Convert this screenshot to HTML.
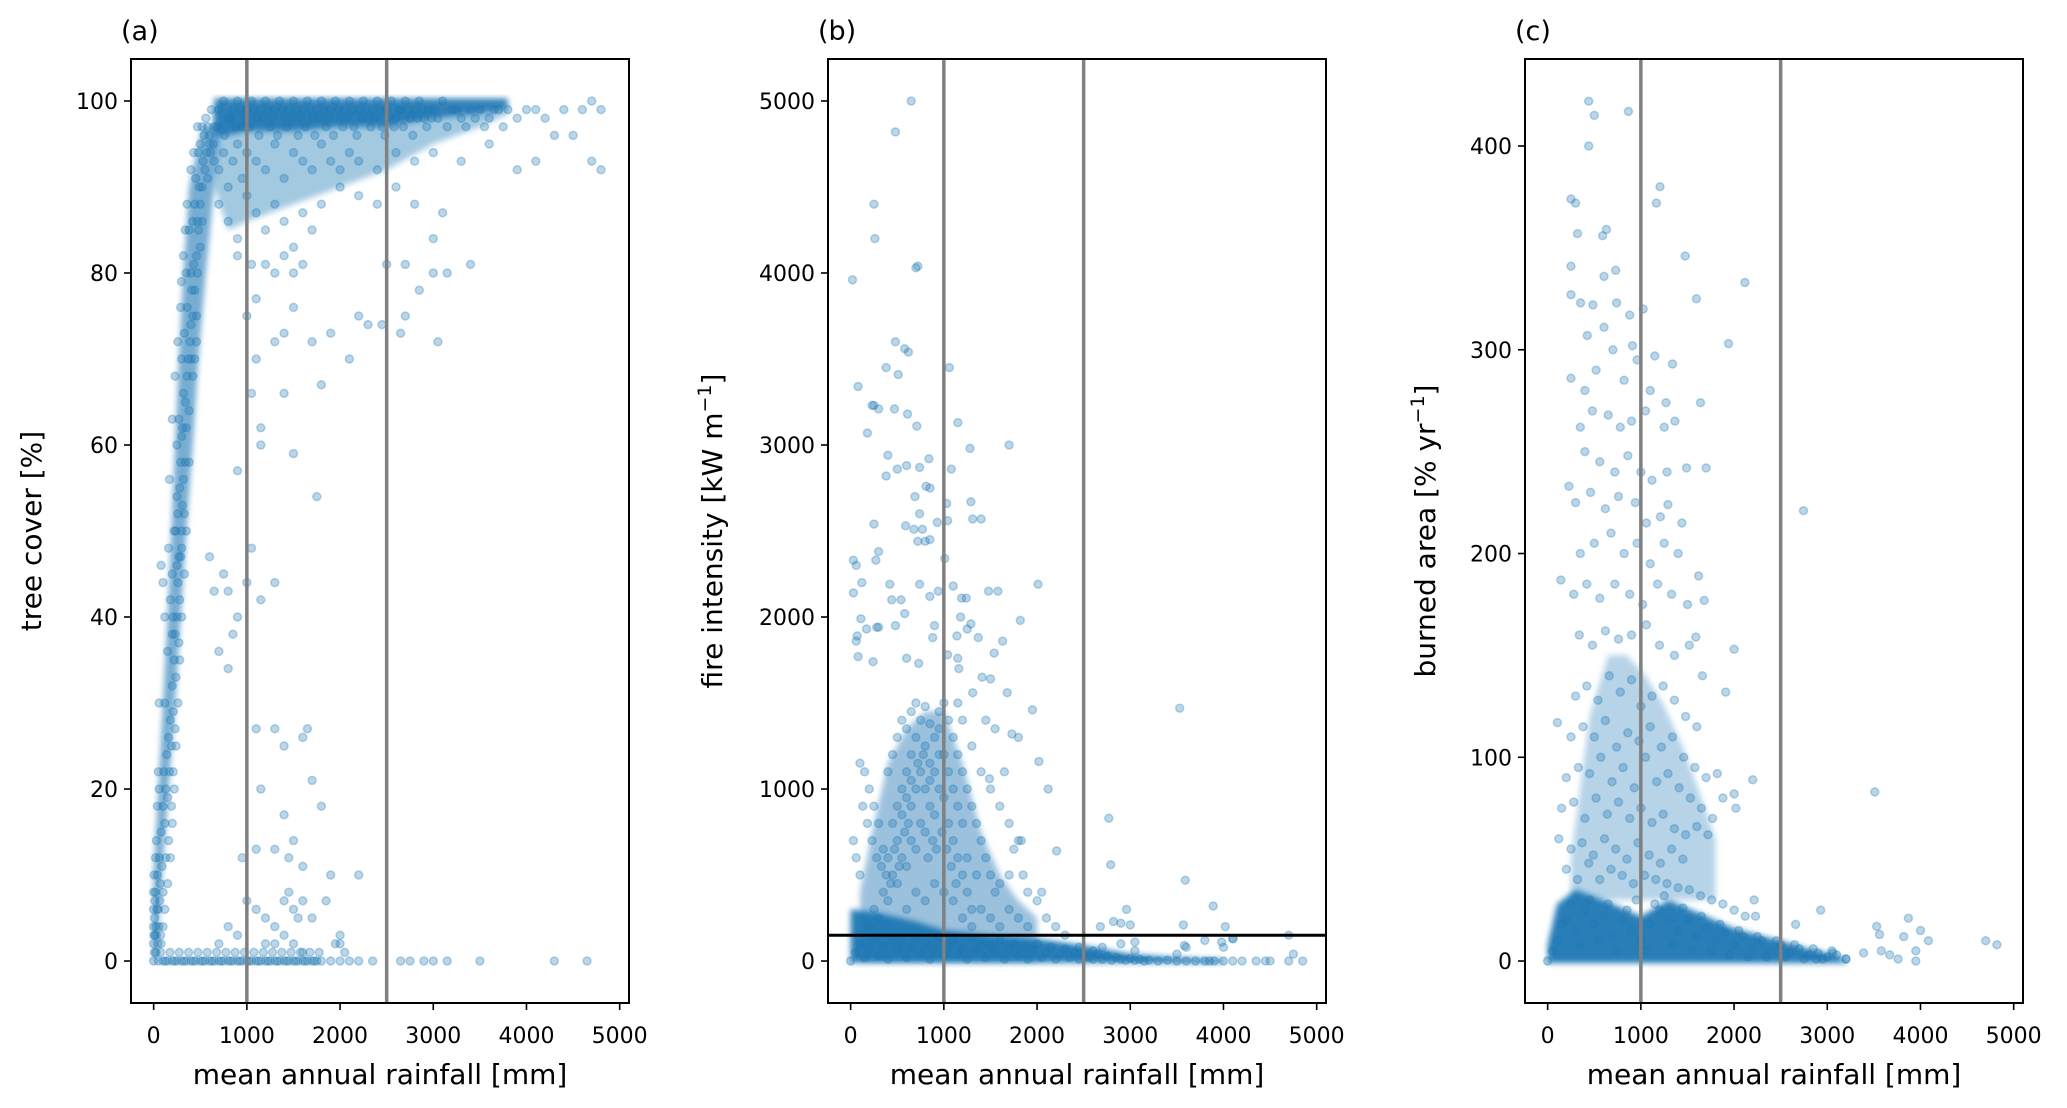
<!DOCTYPE html>
<html><head><meta charset="utf-8">
<style>
html,body{margin:0;padding:0;background:#fff;}
svg{display:block;font-family:"DejaVu Sans","Liberation Sans",sans-serif;}
</style></head>
<body>
<svg id="fig" width="2067" height="1108" viewBox="0 0 2067 1108" xmlns="http://www.w3.org/2000/svg">
<defs><filter id="soft" x="-10%" y="-10%" width="120%" height="120%"><feGaussianBlur stdDeviation="3"/></filter></defs>
</svg>
<script>
// ---------- data ----------
const xTicks = [0,1000,2000,3000,4000,5000];
const xTickLabels = ["0","1000","2000","3000","4000","5000"];
const yTicksA = [0,20,40,60,80,100];
const yTicksB = [0,1000,2000,3000,4000,5000];
const yTicksC = [0,100,200,300,400];
const refRainfall = [1000,2500];
const fireThreshold = 150;

// dense cores (envelopes)
const coreTopRainA = [650,800,1000,1500,2000,2500,3000,3500,3800];
const coreTopLowA  = [96,96,96.5,96.5,97,97,98,98.5,99];
const coreTopHaloLowA = [90,85,86,88,90,92,95,97,98.5];
const coreCurveCoverA = [0,10,20,30,40,50,60,70,80,90,97];
const coreCurveLeftA  = [0,0,50,100,150,190,230,270,320,380,520];
const coreCurveRightA = [30,90,160,230,290,350,420,480,560,650,720];

const coreBandRainB = [0,300,700,1000,1500,2000,2500,3000,3500,4000];
const coreBandHighB = [300,280,230,180,150,130,90,40,20,10];
const coreClusterRainB = [100,250,400,600,800,1000,1200,1400,1600,1800,2000];
const coreClusterHighB = [400,800,1150,1350,1450,1450,1150,750,500,350,250];

const coreBandRainC = [0,100,300,600,1000,1300,1600,2000,2500,2800,3100,3200];
const coreBandHighC = [8,28,35,30,22,30,24,16,10,6,3,0];
const coreClusterRainC = [250,450,650,850,1050,1250,1450,1650,1800];
const coreClusterHighC = [50,120,150,150,140,125,105,80,60];

const treeCoverPoints = [
[700,99],[750,100],[800,98],[850,99],[900,100],[950,97],[1000,99],[1050,100],[1100,98],[1150,99],[1200,100],[1250,97],[1300,99],[1350,100],[1400,98],[1450,99],[1500,100],[1550,96],[1600,99],[1650,100],[1700,98],[1750,99],[1800,100],[1850,97],[1900,99],[1950,100],[2000,98],[2050,99],[2100,100],[2150,97],[2200,99],[2250,100],[2300,98],[2350,99],[2400,100],[2450,97],[2500,99],[2550,100],[2600,98],[2650,99],[2700,100],[2750,98],[2800,99],[2850,100],[2900,98],[2950,99],[3000,99],[3100,100],[3200,99],[3300,98],[3400,99],[3500,99],[3600,98],[3700,99],[3800,99],[3900,98],[4000,99],[4100,99],[4200,98],[4400,99],[4600,99],[4700,100],[4800,99],
[680,97],[760,96],[830,98],[880,97],[930,99],[980,98],[1030,97],[1080,99],[1130,96],[1180,98],[1230,99],[1280,98],[1330,96],[1380,99],[1430,97],[1480,98],[1530,99],[1580,98],[1630,97],[1680,99],[1730,96],[1780,98],[1830,99],[1880,98],[1930,96],[1980,99],[2030,97],[2080,98],[2130,99],[2180,96],[2230,98],[2280,99],[2330,97],[2380,98],[2430,99],[2480,96],[2530,98],[2580,97],[2630,99],[2680,97],[2730,99],[2780,96],[2830,98],[2880,99],[2930,97],[2980,98],[3050,98],[3150,97],[3250,99],[3350,97],[3450,98],[3550,97],[3650,99],[3750,97],
[600,95],[650,93],[700,92],[750,94],[800,90],[850,93],[900,95],[950,91],[1000,94],[1100,93],[1200,92],[1300,95],[1400,91],[1500,94],[1600,93],[1700,92],[1800,95],[1900,93],[2000,92],[2100,94],[2200,93],[2400,92],[2600,94],[2800,93],[3000,94],[3300,93],[3600,95],[3900,92],[4100,93],[4300,96],[4800,92],[4700,93],[4500,96],
[700,88],[800,86],[900,84],[1000,89],[1100,87],[1200,85],[1300,88],[1400,86],[1500,83],[1600,87],[1700,85],[1800,88],[2000,90],[2200,89],[2400,88],[2600,90],[2800,88],[3000,84],[3100,87],[1200,81],[1300,80],[1400,82],[1500,80],[1600,81],[900,82],[1050,81],[2500,81],[2700,81],[3000,80],[3150,80],[3400,81],[2850,78],[2700,75],[2200,75],[2300,74],[2100,70],[1900,73],[1700,72],[1800,67],[1500,76],[1400,73],[1300,72],[1100,77],[1000,75],[1100,70],[1400,66],[3050,72],[2650,73],[2450,74],[1150,62],[1150,60],[1050,66],[1500,59],[1750,54],[900,57],[1050,48],[1000,44],[1150,42],[1300,44],[1100,27],[1300,27],[1400,25],[1600,26],[1650,27],[1700,21],[1800,18],[1150,20],[1400,17],[1900,10],[2200,10],[1100,13],[1500,14],[1300,13],[1450,12],[1600,11],[950,12],[1850,7],[1000,7],[1100,6],[1200,5],[1300,4],[1400,7],[1450,8],[1500,6],[1550,5],[1600,7],[1700,5],[1200,2],[1300,2],[1400,3],[1500,2],[2000,3],[2000,2],[1950,2],[2050,1],[1600,1],[800,4],[900,3],[700,2],[800,43],[850,38],[900,40],[700,36],[750,45],[650,43],[800,34],[600,47],
[0,2],[10,5],[20,8],[30,3],[40,10],[50,6],[60,12],[70,9],[30,14],[80,15],[90,11],[100,18],[60,20],[110,22],[120,16],[130,20],[140,24],[150,19],[160,26],[170,22],[180,28],[190,25],[120,30],[200,32],[210,29],[220,35],[230,38],[240,33],[250,40],[260,44],[270,37],[280,42],[290,47],[300,50],[200,45],[220,50],[250,54],[280,55],[300,48],[310,53],[320,56],[330,52],[340,58],[250,60],[270,63],[300,61],[320,66],[350,62],[360,68],[380,64],[400,70],[300,70],[330,73],[360,76],[390,72],[420,75],[440,78],[400,80],[460,82],[350,80],[300,79],[480,85],[420,86],[500,88],[380,85],[520,90],[450,91],[550,92],[480,94],[600,96],[520,97],[560,98],[620,99],[650,97],[570,94],[500,95],[440,88],[460,75],[420,68],[380,58],[350,50],[330,45],[300,40],[280,35],[260,30],[240,25],[220,20],[200,16],[180,12],[150,9],[120,6],[100,4],[80,2],[200,38],[180,42],[270,47],[240,50],[150,36],[120,40],[100,44],[80,46],[60,30],[50,22],[40,18],[20,12],[10,1],[5,3],[15,7],[25,4],[35,6],[45,2],[55,4],[65,7],[75,3],[100,8],[130,12],[160,14],[190,18],[210,22],[230,27],[210,40],[250,46],[260,52],[290,58],[310,62],[340,65],[370,70],[400,74],[410,78],[430,81],[470,86],[490,90],[530,93],[580,91],[610,94],[640,95],[470,80],[500,83],[520,86],[440,70],[460,72],[160,48],[170,56],[200,63],[230,68],[260,72],[290,76],[320,82],[340,85],[360,88],[400,92],[430,94],[470,97],[540,96],[580,97],
[0,0],[50,0],[100,0],[150,0],[200,0],[250,0],[300,0],[350,0],[400,0],[450,0],[500,0],[550,0],[600,0],[650,0],[700,0],[750,0],[800,0],[850,0],[900,0],[950,0],[1000,0],[1050,0],[1100,0],[1150,0],[1200,0],[1250,0],[1300,0],[1350,0],[1400,0],[1450,0],[1500,0],[1550,0],[1600,0],[1650,0],[1700,0],[1750,0],[1800,0],[1900,0],[2000,0],[2100,0],[2200,0],[2350,0],[2650,0],[2750,0],[2900,0],[3000,0],[3150,0],[3500,0],[4300,0],[4650,0],[25,1],[75,1],[125,0],[175,1],[225,0],[275,1],[325,0],[375,1],[425,0],[475,1],[525,0],[575,1],[625,0],[675,1],[725,0],[775,1],[825,0],[875,1],[925,0],[975,1],[1025,0],[1075,1],[1125,0],[1175,1],[1225,0],[1275,1],[1325,0],[1375,1],[1425,0],[1475,1],[1525,0],[1575,1],[1625,0],[1675,1],[1725,0],[1775,1],[0,4],[0,8],[5,10],[0,6],[10,3]
];

const fireIntensityPoints = [
[0,0],[50,50],[100,100],[150,20],[200,80],[250,130],[300,30],[350,90],[400,10],[450,140],[500,60],[550,110],[600,20],[650,80],[700,130],[750,40],[800,100],[850,10],[900,70],[950,140],[1000,30],[1050,90],[1100,120],[1150,40],[1200,80],[1250,10],[1300,130],[1350,60],[1400,100],[1450,20],[1500,90],[1550,50],[1600,120],[1650,10],[1700,70],[1750,100],[1800,30],[1850,80],[1900,10],[1950,60],[2000,100],[2050,20],[2100,50],[2150,80],[2200,10],[2250,40],[2300,70],[2350,20],[2400,50],[2450,10],[2500,30],
[2550,20],[2600,10],[2650,40],[2700,10],[2750,30],[2800,5],[2850,20],[2900,10],[2950,5],[3000,15],[3050,5],[3100,10],[3150,0],[3200,5],[3300,0],[3400,5],[3500,0],[3600,0],[3700,0],[3800,0],[3900,0],[4000,0],[4100,0],[4200,0],[4350,0],[4450,0],[4500,0],[4700,0],[4850,0],[2600,60],[2700,80],[2900,100],[3050,60],[3500,40],[3600,80],[3800,120],[4000,80],[4100,130],[3850,0],[4750,40],[4700,150],
[200,200],[250,300],[300,250],[350,400],[400,350],[450,500],[500,450],[550,600],[600,550],[650,700],[700,650],[750,800],[800,750],[850,900],[900,850],[950,1000],[1000,950],[1050,800],[1100,700],[1150,600],[1200,500],[1250,400],[1300,300],[400,600],[450,800],[500,900],[550,1000],[600,1100],[650,1200],[700,1300],[750,1400],[800,1250],[850,1150],[900,1300],[950,1450],[1000,1200],[1050,1100],[1100,1000],[1150,900],[1200,800],[500,700],[550,850],[600,950],[650,1050],[700,1000],[750,1100],[800,1000],[850,1050],[900,1100],[950,1200],[600,300],[700,400],[800,350],[900,450],[1000,400],[1100,350],[1200,250],[1300,200],[1400,300],[1500,250],[1600,200],[1700,300],[1800,250],[1900,200],[2000,350],[350,650],[300,800],[250,900],[200,1000],[150,1100],[100,1150],[400,1100],[450,1200],[500,1300],[550,1400],[600,1350],[650,1450],[700,1500],[800,1480],[850,1380],[950,1350],[1000,1500],[1050,1400],[1100,1300],[1150,1200],[1200,1100],[1250,1000],[1300,900],[1350,800],[1400,700],[1450,600],[1500,500],[1550,400],[1600,450],[1700,500],[1250,600],[1350,500],[100,500],[60,600],[30,700],[1200,1400],[1300,1250],[1400,1100],[1500,1000],[1600,900],[1700,800],[650,900],[720,1150],[780,1200],[830,600],[880,700],[920,650],[980,750],[1030,650],[1080,550],[1130,450],[620,800],[580,750],[520,550],[470,650],[430,450],[380,500],[330,550],[280,600],[230,700],[180,800],[130,900],[1150,1500],[1450,1400],[1550,1350],[1650,1100],[1800,700],[1900,400],[2100,250],[2200,200],[2300,150],[2050,400],[1850,500],[1750,650],
[20,3960],[250,4400],[260,4200],[480,4820],[650,5000],[720,4040],[700,4030],[480,3600],[580,3560],[620,3540],[380,3450],[510,3410],[1060,3450],[80,3340],[230,3230],[250,3230],[300,3210],[180,3070],[470,3210],[610,3180],[710,3110],[1150,3130],[1280,2980],[1700,3000],[400,2940],[840,2920],[600,2880],[500,2860],[740,2870],[1080,2860],[380,2820],[810,2760],[850,2750],[690,2700],[1030,2660],[1290,2670],[740,2600],[1310,2570],[1400,2570],[1040,2560],[250,2540],[930,2550],[590,2530],[680,2510],[770,2510],[720,2440],[800,2440],[850,2450],[1010,2340],[30,2330],[60,2300],[270,2330],[300,2380],[120,2200],[420,2190],[740,2190],[1100,2180],[2010,2190],[30,2140],[940,2150],[1480,2150],[1580,2150],[1190,2110],[1240,2110],[540,2100],[440,2100],[580,2020],[850,2120],[1290,1960],[1250,1930],[1820,1980],[110,1990],[280,1940],[300,1940],[170,1930],[480,1950],[1180,2000],[900,1950],[1140,1890],[1370,1880],[1630,1860],[70,1890],[60,1860],[80,1770],[880,1880],[1540,1790],[600,1760],[730,1730],[240,1740],[1150,1760],[1040,1780],[1160,1700],[1410,1650],[1500,1640],[1680,1560],[1310,1560],[1950,1460],[1730,1320],[1800,1300],[2020,1160],[1490,1060],[2120,1000],[1830,700],[2210,640],[2770,830],[2790,560],[3590,470],[2680,200],[2820,230],[2900,220],[2960,300],[3530,1470],[3890,320],[3570,210],[3980,110],[4020,200],[4100,130],[3580,90],[3050,110],[3000,210],[2450,80]
];

const burnedAreaPoints = [
[440,422],[500,415],[866,417],[440,400],[251,374],[300,372],[1205,380],[1167,372],[320,357],[630,359],[590,356],[1476,346],[605,336],[730,339],[2116,333],[1596,325],[251,341],[251,327],[354,323],[485,322],[740,323],[1025,320],[880,317],[1940,303],[425,307],[605,311],[910,302],[1150,297],[251,286],[1340,293],[1270,274],[1640,274],[1365,265],[228,233],[1290,224],[1440,215],[1700,242],[1490,242],[2745,221],[2200,89],[3510,83],[142,187],[105,117],[1620,189],[2000,153],[1680,177],[1910,132],[1590,159],
[2930,25],[3530,17],[3560,13],[3870,21],[4000,15],[4085,10],[3820,12],[3580,5],[3390,4],[3670,3],[3760,1],[3950,0],[3950,5],[4700,10],[4820,8],[3200,1],[3060,4],[2880,1],[2660,18],[2230,22],[2215,30],
[400,280],[520,290],[700,300],[820,285],[960,295],[1100,280],[350,262],[480,270],[650,268],[780,262],[900,265],[1050,270],[1250,262],[400,250],[560,245],[720,240],[860,248],[1000,240],[1120,236],[1280,240],[300,225],[460,230],[620,222],[760,228],[940,225],[1060,215],[1210,218],[350,200],[500,205],[680,210],[820,200],[960,205],[1100,195],[1250,205],[1400,200],[280,180],[420,185],[560,178],[720,185],[880,180],[1020,175],[1180,185],[1330,180],[1500,175],[340,160],[480,155],[620,162],[760,158],[900,160],[1060,165],[1200,155],[1360,150],[1520,155],[1660,140],
[300,130],[420,135],[540,128],[660,140],[780,132],[900,138],[1000,125],[1120,130],[1240,135],[1360,128],[1480,120],[1600,115],[250,110],[380,115],[500,110],[620,118],[740,105],[860,112],[980,108],[1100,115],[1220,105],[1340,110],[1460,100],[1580,95],[1700,90],[1820,92],[200,90],[330,95],[450,92],[570,100],[690,88],[810,95],[930,85],[1050,100],[1170,88],[1290,92],[1410,85],[1530,80],[1650,75],[1770,70],[1880,80],[2000,82],[2020,75],[150,75],[280,78],[400,70],[520,80],[640,72],[760,78],[880,70],[1000,75],[1120,68],[1240,72],[1360,65],[1480,62],[1600,66],[1720,62],[120,60],[250,55],[370,58],[490,52],[610,60],[730,55],[850,50],[970,58],[1090,52],[1210,48],[1330,55],[1450,50],[200,45],[320,40],[440,48],[560,40],[680,45],[800,42],[920,38],[1040,42],[1160,40],[1280,38],[1400,36],[1520,35],[1640,32],[1760,30],[1880,28],[2000,25],[2120,22],
[0,0],[100,10],[200,20],[300,15],[400,25],[500,18],[600,22],[700,12],[800,20],[900,15],[1000,10],[1100,18],[1200,25],[1300,20],[1400,15],[1500,20],[1600,12],[1700,16],[1800,10],[1900,14],[2000,8],[2100,12],[2200,6],[2300,10],[2400,5],[2500,8],[2600,4],[2700,6],[2800,3],[2900,4],[3000,2],[3100,3],[3200,1],
[50,5],[150,18],[250,28],[350,8],[450,30],[550,10],[650,28],[750,5],[850,25],[950,30],[1050,5],[1150,28],[1250,32],[1350,8],[1450,26],[1550,5],[1650,22],[1750,5],[1850,18],[1950,3],[2050,15],[2150,2],[2250,12],[2350,2],[2450,10],[2550,2],[2650,8],[2750,1],[2850,6],[2950,1],[3050,5]
];

// ---------- layout ----------
const panels = [
  {id:"a", label:"(a)", left:131, right:629, top:59, bottom:1003, ymin:-4.88, ymax:104.88, yticks:yTicksA, ylabel:"tree cover [%]", ylabelX:31, pts:treeCoverPoints},
  {id:"b", label:"(b)", left:828, right:1326, top:59, bottom:1003, ymin:-244, ymax:5244, yticks:yTicksB, ylabel:"fire intensity [kW m", ysup:"−1", ysuf:"]", ylabelX:712, pts:fireIntensityPoints},
  {id:"c", label:"(c)", left:1525, right:2023, top:59, bottom:1003, ymin:-20.6, ymax:442.7, yticks:yTicksC, ylabel:"burned area [% yr", ysup:"−1", ysuf:"]", ylabelX:1425, pts:burnedAreaPoints}
];
const XMIN=-243, XMAX=5100;
const NS="http://www.w3.org/2000/svg";
const svg=document.getElementById('fig');
function mk(tag, attrs, parent){const e=document.createElementNS(NS,tag);for(const k in attrs)e.setAttribute(k,attrs[k]);(parent||svg).appendChild(e);return e;}
const BLUE="#1f77b4";

panels.forEach(p=>{
  const sx=v=>p.left+(v-XMIN)/(XMAX-XMIN)*(p.right-p.left);
  const sy=v=>p.bottom-(v-p.ymin)/(p.ymax-p.ymin)*(p.bottom-p.top);
  const g=mk('g',{});
  
  
  const clipId='clip'+p.id;
  const cp=mk('clipPath',{id:clipId},g);
  mk('rect',{x:p.left,y:p.top,width:p.right-p.left,height:p.bottom-p.top},cp);
  const plot=mk('g',{'clip-path':'url(#'+clipId+')'},g);
  
  

  function area(xs,lo,hi,op,name){
    let d='';
    xs.forEach((x,i)=>{d+=(i?'L':'M')+sx(x).toFixed(1)+','+sy(hi[i]).toFixed(1);});
    for(let i=xs.length-1;i>=0;i--) d+='L'+sx(xs[i]).toFixed(1)+','+sy(lo[i]).toFixed(1);
    const e=mk('path',{d:d+'Z',fill:BLUE,'fill-opacity':op,filter:'url(#soft)'},plot);
    
    
  }
  if(p.id==='a'){
    area(coreTopRainA,coreTopHaloLowA,coreTopRainA.map(()=>99),0.4,'dense-core-top-halo');
    area(coreTopRainA,coreTopLowA,coreTopRainA.map(()=>100.3),0.9,'dense-core-top');
    let d='';
    coreCurveCoverA.forEach((c,i)=>{d+=(i?'L':'M')+sx(coreCurveLeftA[i]).toFixed(1)+','+sy(c).toFixed(1);});
    for(let i=coreCurveCoverA.length-1;i>=0;i--) d+='L'+sx(coreCurveRightA[i]).toFixed(1)+','+sy(coreCurveCoverA[i]).toFixed(1);
    const e=mk('path',{d:d+'Z',fill:BLUE,'fill-opacity':0.6,filter:'url(#soft)'},plot);
    
    
  } else if(p.id==='b'){
    area(coreClusterRainB,coreClusterRainB.map(()=>0),coreClusterHighB,0.45,'dense-core-cluster');
    area(coreBandRainB,coreBandRainB.map(()=>-10),coreBandHighB,0.95,'dense-core-band');
  } else {
    area(coreClusterRainC,coreClusterRainC.map(()=>30),coreClusterHighC,0.32,'dense-core-cluster');
    area(coreBandRainC,coreBandRainC.map(()=>-1),coreBandHighC,0.95,'dense-core-band');
  }

  p.pts.forEach(pt=>{
    const c=mk('circle',{cx:sx(pt[0]).toFixed(1),cy:sy(pt[1]).toFixed(1),r:4,fill:BLUE,'fill-opacity':0.3,stroke:BLUE,'stroke-opacity':0.3,'stroke-width':1.5},plot);
    
    
  });

  refRainfall.forEach(r=>{
    const l=mk('line',{x1:sx(r),x2:sx(r),y1:p.top,y2:p.bottom,stroke:'#808080','stroke-width':3.5},plot);
    
    
  });
  if(p.id==='b'){
    const l=mk('line',{x1:p.left,x2:p.right,y1:sy(fireThreshold),y2:sy(fireThreshold),stroke:'#000','stroke-width':3},plot);
    
    
  }
  const fr=mk('rect',{x:p.left,y:p.top,width:p.right-p.left,height:p.bottom-p.top,fill:'none',stroke:'#000','stroke-width':2},g);
  
  

  xTicks.forEach((t,i)=>{
    const x=sx(t);
    const tk=mk('line',{x1:x,x2:x,y1:p.bottom,y2:p.bottom+7,stroke:'#000','stroke-width':1.6},g);
    
    
    const tx=mk('text',{x:x,y:p.bottom+40,'text-anchor':'middle','font-size':22,fill:'#000'},g);
    tx.textContent=xTickLabels[i];
    
    
  });
  p.yticks.forEach(t=>{
    const y=sy(t);
    const tk=mk('line',{x1:p.left-7,x2:p.left,y1:y,y2:y,stroke:'#000','stroke-width':1.6},g);
    
    
    const tx=mk('text',{x:p.left-13,y:y+8,'text-anchor':'end','font-size':22,fill:'#000'},g);
    tx.textContent=String(t);
    
    
  });
  const xl=mk('text',{x:(p.left+p.right)/2,y:1084,'text-anchor':'middle','font-size':28,fill:'#000'},g);
  xl.textContent='mean annual rainfall [mm]';
  
  
  const yl=mk('text',{x:0,y:0,'text-anchor':'middle','font-size':28,fill:'#000',transform:'translate('+(p.ylabelX+10)+',531) rotate(-90)'},g);
  
  
  if(p.ysup){
    const t1=mk('tspan',{},yl);t1.textContent=p.ylabel;
    const t2=mk('tspan',{dy:-11,'font-size':19},yl);t2.textContent=p.ysup;
    const t3=mk('tspan',{dy:11},yl);t3.textContent=p.ysuf;
  } else yl.textContent=p.ylabel;
  const pl=mk('text',{x:p.left-10,y:40,'font-size':27,fill:'#000'},g);
  pl.textContent=p.label;
  
  
});
</script>
</body></html>
